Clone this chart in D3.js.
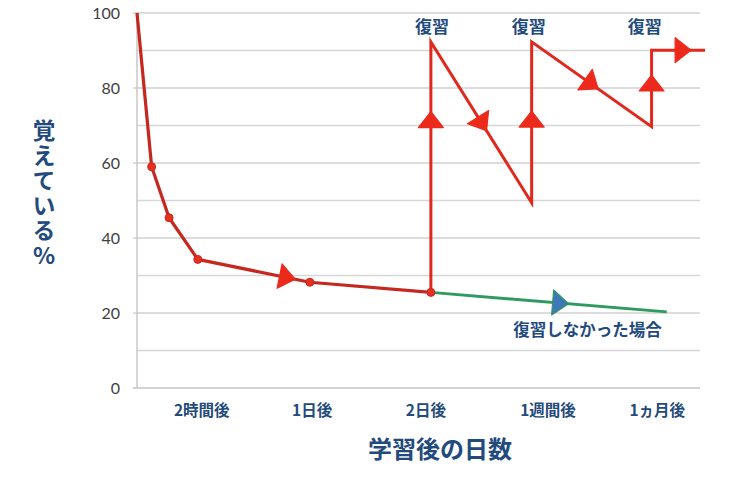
<!DOCTYPE html>
<html><head><meta charset="utf-8">
<script src="https://cdn.jsdelivr.net/npm/d3@7"></script>
<style>html,body{margin:0;padding:0;background:#fff;}svg{display:block;}</style>
</head><body>
<svg id="chart" width="745" height="480"></svg>
<script>
// ---- data ----
const yTicks = [0, 20, 40, 60, 80, 100];
const yMinor = [10, 30, 50, 70, 90];
const xLabels = ["2時間後", "1日後", "2日後", "1週間後", "1ヵ月後"];
const xLabelPos = [1.15, 3.11, 5.13, 7.30, 9.24];

const curveX = [0, 0.26, 0.57, 1.08, 3.07, 5.22];
const curveY = [100, 59, 45.4, 34.3, 28.2, 25.5];

const reviewX = [5.22, 5.22, 7.01, 7.01, 9.14, 9.14, 10.09];
const reviewY = [25.5, 92.3, 49.4, 92.3, 69.7, 90.1, 90.1];

const noReviewX = [5.22, 9.41];
const noReviewY = [25.5, 20.3];

const reviewLabels = ["復習", "復習", "復習"];
const reviewLabelX = [5.24, 6.96, 9.02];
const reviewLabelY = 96.3;

const noReviewLabel = "復習しなかった場合";
const noReviewLabelX = 8.0, noReviewLabelY = 15.5;

// arrow markers: [segment index, fraction along segment]
const curveArrows = [[3, 0.8]];
const reviewArrows = [[0, 0.69], [1, 0.51], [2, 0.52], [3, 0.5], [4, 0.57], [5, 0.59]];
const noReviewArrows = [[0, 0.55]];

const yTitle = "覚えている%";
const xTitle = "学習後の日数";

// ---- drawing ----
const svg = d3.select("#chart");
const x = d3.scaleLinear().domain([0, 10]).range([137, 700]);
const y = d3.scaleLinear().domain([0, 100]).range([388, 13]);

const navy = "#234a7c";
const cjk = "'Noto Sans CJK JP', 'Noto Sans', sans-serif";

// grid
const g = svg.append("g");
g.selectAll("line.minor").data(yMinor).join("line")
  .attr("x1", x(0)).attr("x2", x(10)).attr("y1", d => y(d)).attr("y2", d => y(d))
  .attr("stroke", "#d6d6d6").attr("stroke-width", 1.5);
g.selectAll("line.major").data(yTicks).join("line")
  .attr("x1", x(0) - 4).attr("x2", x(10)).attr("y1", d => y(d)).attr("y2", d => y(d))
  .attr("stroke", d => d === 0 ? "#c4c4c4" : "#d0d0d0").attr("stroke-width", 1.5);
g.append("line").attr("x1", x(0)).attr("x2", x(0)).attr("y1", y(100)).attr("y2", y(0))
  .attr("stroke", "#c8c8c8").attr("stroke-width", 1.5);

// y tick labels
svg.append("g").selectAll("text").data(yTicks).join("text")
  .attr("x", x(0) - 17).attr("y", d => y(d)).attr("dy", "0.35em")
  .attr("text-anchor", "end").attr("font-family", "Lato, 'Open Sans', sans-serif")
  .attr("font-size", 16).attr("fill", "#404040").text(d => d);

// x labels
svg.append("g").selectAll("text").data(xLabels).join("text")
  .attr("x", (d, i) => x(xLabelPos[i])).attr("y", 411).attr("dy", "0.35em")
  .attr("text-anchor", "middle").attr("font-family", cjk).attr("font-weight", "bold")
  .attr("font-size", 15.5).attr("fill", navy).text(d => d);

// titles
svg.append("text").attr("x", 440).attr("y", 450).attr("dy", "0.35em")
  .attr("text-anchor", "middle").attr("font-family", cjk).attr("font-weight", "bold")
  .attr("font-size", 24).attr("fill", navy).text(xTitle);
svg.append("text").attr("x", 44).attr("y", 194)
  .attr("text-anchor", "middle").attr("font-family", cjk).attr("font-weight", "bold")
  .attr("font-size", 23).attr("letter-spacing", 2).attr("fill", navy)
  .style("writing-mode", "vertical-rl").style("text-orientation", "upright")
  .text(yTitle);

const line = d3.line().x(d => x(d[0])).y(d => y(d[1]));
const zip = (a, b) => a.map((v, i) => [v, b[i]]);

function arrows(pts, list, fill, stroke) {
  list.forEach(([i, t]) => {
    const p0 = pts[i], p1 = pts[i + 1];
    const px0 = x(p0[0]), py0 = y(p0[1]), px1 = x(p1[0]), py1 = y(p1[1]);
    const cx = px0 + (px1 - px0) * t, cy = py0 + (py1 - py0) * t;
    const ang = Math.atan2(py1 - py0, px1 - px0) * 180 / Math.PI;
    const h = 16, b = 25;
    svg.append("path")
      .attr("d", `M${h * 0.5},0 L${-h * 0.5},${-b / 2} L${-h * 0.5},${b / 2} Z`)
      .attr("transform", `translate(${cx},${cy}) rotate(${ang})`)
      .attr("fill", fill).attr("stroke", stroke).attr("stroke-width", 1.2)
      .attr("stroke-linejoin", "round");
  });
}

// no review (green)
const nr = zip(noReviewX, noReviewY);
svg.append("path").attr("d", line(nr)).attr("fill", "none")
  .attr("stroke", "#2f9a5e").attr("stroke-width", 3);
arrows(nr, noReviewArrows, "#3f78b8", "#2f9a5e");

// review path (red)
const rv = zip(reviewX, reviewY);
svg.append("path").attr("d", line(rv)).attr("fill", "none")
  .attr("stroke", "#e2271c").attr("stroke-width", 3).attr("stroke-linejoin", "miter");
arrows(rv, reviewArrows, "#ec2a1c", "#ec2a1c");

// forgetting curve
const cv = zip(curveX, curveY);
svg.append("path").attr("d", line(cv)).attr("fill", "none")
  .attr("stroke", "#c4281e").attr("stroke-width", 3.2).attr("stroke-linejoin", "round");
svg.append("g").selectAll("circle").data(cv.slice(1)).join("circle")
  .attr("cx", d => x(d[0])).attr("cy", d => y(d[1])).attr("r", 4)
  .attr("fill", "#e8301f").attr("stroke", "#c4281e").attr("stroke-width", 1);
arrows(cv, curveArrows, "#ec2a1c", "#ec2a1c");

// labels
svg.append("g").selectAll("text").data(reviewLabels).join("text")
  .attr("x", (d, i) => x(reviewLabelX[i])).attr("y", y(reviewLabelY)).attr("dy", "0.35em")
  .attr("text-anchor", "middle").attr("font-family", cjk).attr("font-weight", "bold")
  .attr("font-size", 17).attr("fill", navy).text(d => d);
svg.append("text").attr("x", x(noReviewLabelX)).attr("y", y(noReviewLabelY)).attr("dy", "0.35em")
  .attr("text-anchor", "middle").attr("font-family", cjk).attr("font-weight", "bold")
  .attr("font-size", 16.5).attr("fill", navy).text(noReviewLabel);
</script>
</body></html>
